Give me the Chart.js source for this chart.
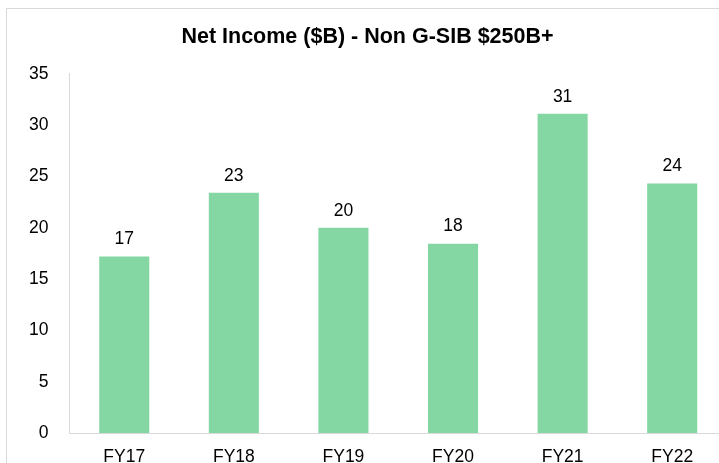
<!DOCTYPE html>
<html>
<head>
<meta charset="utf-8">
<script src="https://cdn.jsdelivr.net/npm/chart.js@4"></script>
<style>
  html, body { margin: 0; padding: 0; background: #fff; overflow: hidden; }
  #frame { position: absolute; left: 6px; top: 8px; width: 800px; height: 600px; border: 1px solid #d9d9d9; }
  #wrap { position: absolute; left: 0; top: 0; width: 727px; height: 482px; }
</style>
</head>
<body>
<div id="frame"></div>
<div id="wrap"><canvas id="myChart"></canvas></div>
<script>
const years = ["FY17", "FY18", "FY19", "FY20", "FY21", "FY22"];
const netIncome = [17.2, 23.4, 20.0, 18.45, 31.1, 24.3];
const yTicks = [0, 5, 10, 15, 20, 25, 30, 35];

// draw the value above each bar
const barLabels = {
  id: "barLabels",
  afterDatasetsDraw(chart) {
    const ctx = chart.ctx;
    const meta = chart.getDatasetMeta(0);
    ctx.save();
    ctx.font = "17.5px 'Liberation Sans', Arial, sans-serif";
    ctx.fillStyle = "#000";
    ctx.textAlign = "center";
    ctx.textBaseline = "middle";
    meta.data.forEach((bar, i) => {
      ctx.fillText(Math.round(netIncome[i]), bar.x, bar.y - 17);
    });
    ctx.restore();
  },
};

initChart();

function initChart() {
  const ctx = document.getElementById("myChart").getContext("2d");
  window.chart = new Chart(ctx, {
    type: "bar",
    data: {
      labels: years,
      datasets: [
        {
          label: "Net Income",
          backgroundColor: "#84d7a2",
          data: netIncome,
          barPercentage: 0.457,
          categoryPercentage: 1.0,
        },
      ],
    },
    options: {
      responsive: true,
      maintainAspectRatio: false,
      animation: false,
      layout: { padding: { left: 8, top: 24, right: 0, bottom: 0 } },
      plugins: {
        legend: { display: false },
        tooltip: { enabled: false },
        title: {
          display: true,
          text: "Net Income ($B) - Non G-SIB $250B+",
          color: "#000",
          font: { family: "'Liberation Sans', Arial, sans-serif", size: 21.5, weight: "bold" },
          padding: { top: 0, bottom: 24 },
        },
      },
      scales: {
        x: {
          grid: { display: false, drawTicks: false },
          border: { color: "#d9d9d9", width: 1 },
          ticks: {
            color: "#000",
            padding: 14,
            font: { family: "'Liberation Sans', Arial, sans-serif", size: 17.5 },
          },
        },
        y: {
          min: 0,
          max: 35,
          afterBuildTicks: (axis) => {
            axis.ticks = yTicks.map((v) => ({ value: v }));
          },
          grid: { display: false, drawTicks: false },
          border: { color: "#d9d9d9", width: 1 },
          ticks: {
            color: "#000",
            padding: 21,
            font: { family: "'Liberation Sans', Arial, sans-serif", size: 17.5 },
          },
        },
      },
    },
    plugins: [barLabels],
  });
}
</script>
</body>
</html>
